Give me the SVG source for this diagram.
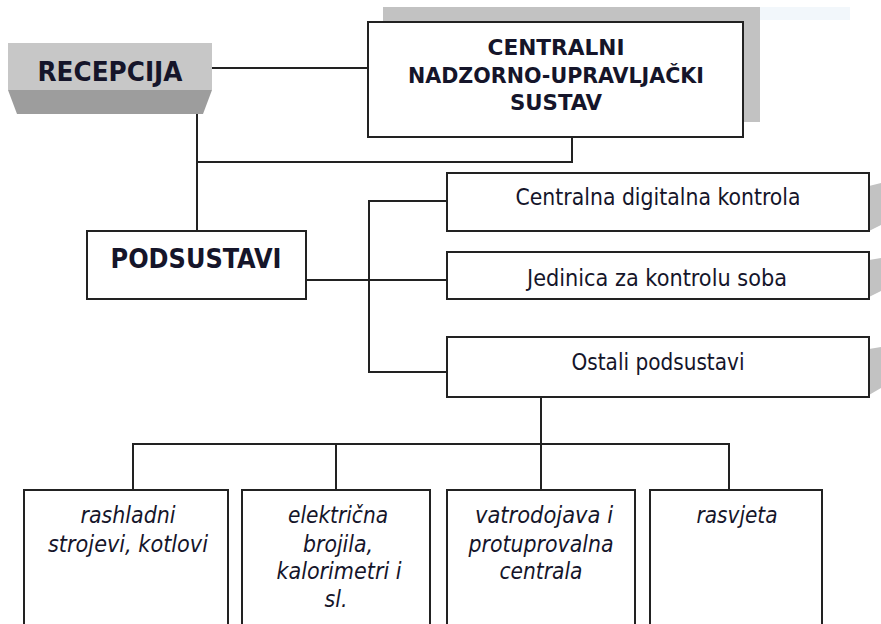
<svg xmlns="http://www.w3.org/2000/svg" width="881" height="624" viewBox="0 0 881 624">
<style>
.box{fill:#fff;stroke:#222;stroke-width:2}
.ln{fill:none;stroke:#222;stroke-width:2}
.sh{fill:#c2c2c2}
.b{font-family:"DejaVu Sans Condensed","DejaVu Sans",sans-serif;font-weight:bold;fill:#15152a;text-anchor:middle}
.n{font-family:"DejaVu Sans Condensed","DejaVu Sans",sans-serif;font-size:23px;fill:#15152a;text-anchor:middle}
.i{font-family:"DejaVu Sans Condensed","DejaVu Sans",sans-serif;font-style:italic;font-size:23px;fill:#15152a;text-anchor:middle}
</style>
<rect width="881" height="624" fill="#fff"/>
<g id="connectors">
<polyline class="ln" points="212,68 368,68"/>
<polyline class="ln" points="197,90 197,231"/>
<polyline class="ln" points="197,162 572,162 572,137"/>
<polyline class="ln" points="306,280 447,280"/>
<polyline class="ln" points="447,201 369,201 369,372 447,372"/>
<polyline class="ln" points="541,397 541,444"/>
<polyline class="ln" points="133,490 133,444 729,444 729,490"/>
<polyline class="ln" points="336,444 336,490"/>
<polyline class="ln" points="541,444 541,490"/>
</g>
<g id="recepcija">
<rect x="8" y="43" width="204" height="47" fill="#c7c7c7"/>
<polygon points="8,90 212,90 203,114 17,114" fill="#9d9d9d"/>
<text class="b" x="110" y="81" font-size="26" textLength="145" lengthAdjust="spacingAndGlyphs">RECEPCIJA</text>
</g>
<g id="centralni">
<rect x="760" y="7" width="90" height="13" fill="#f2f7fb"/>
<rect x="383" y="7" width="377" height="115" class="sh"/>
<rect x="368" y="22" width="375" height="115" class="box"/>
<text class="b" font-size="21" x="556" y="55" textLength="137" lengthAdjust="spacingAndGlyphs">CENTRALNI</text>
<text class="b" font-size="21" x="556" y="83" textLength="296" lengthAdjust="spacingAndGlyphs">NADZORNO-UPRAVLJAČKI</text>
<text class="b" font-size="21" x="556" y="110" textLength="92" lengthAdjust="spacingAndGlyphs">SUSTAV</text>
</g>
<g id="podsustavi">
<rect x="87" y="231" width="219" height="68" class="box"/>
<text class="b" x="196" y="268" font-size="26" textLength="171" lengthAdjust="spacingAndGlyphs">PODSUSTAVI</text>
</g>
<g id="cdk">
<polygon class="sh" points="869,186 881,183 881,225 869,231"/>
<rect x="447" y="173" width="422" height="58" class="box"/>
<text class="n" x="658" y="205" textLength="285" lengthAdjust="spacingAndGlyphs">Centralna digitalna kontrola</text>
</g>
<g id="jks">
<polygon class="sh" points="869,260 881,258 881,291 869,297"/>
<rect x="447" y="252" width="422" height="47" class="box"/>
<text class="n" x="657" y="286" textLength="260" lengthAdjust="spacingAndGlyphs">Jedinica za kontrolu soba</text>
</g>
<g id="ostali">
<polygon class="sh" points="869,349 881,347 881,388 869,395"/>
<rect x="447" y="337" width="422" height="60" class="box"/>
<text class="n" x="658" y="370" textLength="173" lengthAdjust="spacingAndGlyphs">Ostali podsustavi</text>
</g>
<g id="rashladni">
<rect x="24" y="490" width="204" height="145" class="box"/>
<text class="i" x="128" y="523" textLength="95" lengthAdjust="spacingAndGlyphs">rashladni</text>
<text class="i" x="128" y="552" textLength="160" lengthAdjust="spacingAndGlyphs">strojevi, kotlovi</text>
</g>
<g id="elektricna">
<rect x="242" y="490" width="188" height="145" class="box"/>
<text class="i" x="338" y="523" textLength="100" lengthAdjust="spacingAndGlyphs">električna</text>
<text class="i" x="338" y="552" textLength="70" lengthAdjust="spacingAndGlyphs">brojila,</text>
<text class="i" x="339" y="579" textLength="125" lengthAdjust="spacingAndGlyphs">kalorimetri i</text>
<text class="i" x="336" y="607" textLength="23" lengthAdjust="spacingAndGlyphs">sl.</text>
</g>
<g id="vatrodojava">
<rect x="447" y="490" width="188" height="145" class="box"/>
<text class="i" x="544" y="523" textLength="138" lengthAdjust="spacingAndGlyphs">vatrodojava i</text>
<text class="i" x="541" y="552" textLength="145" lengthAdjust="spacingAndGlyphs">protuprovalna</text>
<text class="i" x="541" y="579" textLength="83" lengthAdjust="spacingAndGlyphs">centrala</text>
</g>
<g id="rasvjeta">
<rect x="650" y="490" width="172" height="145" class="box"/>
<text class="i" x="737" y="523" textLength="81" lengthAdjust="spacingAndGlyphs">rasvjeta</text>
</g>
</svg>
